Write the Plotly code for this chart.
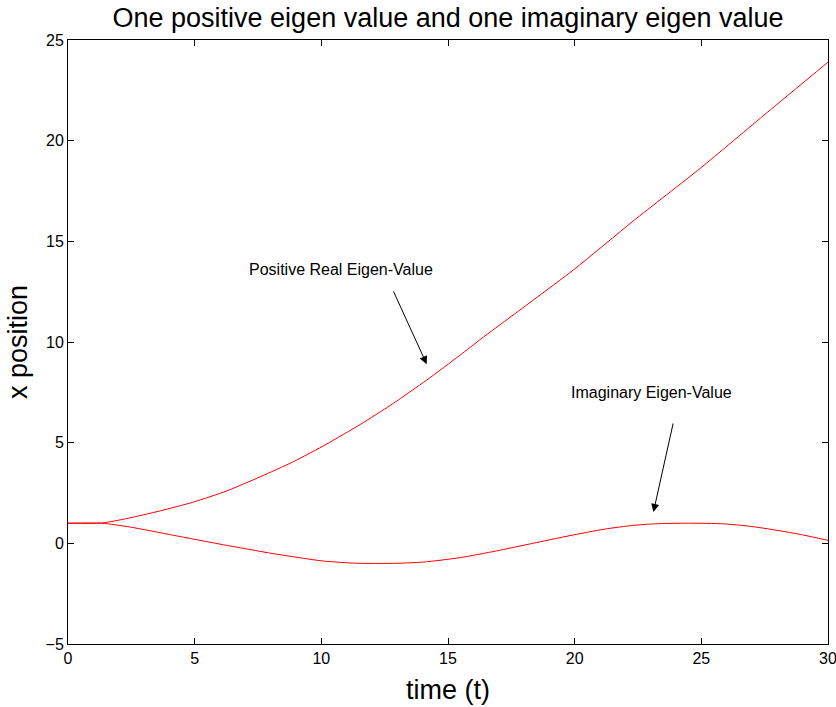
import plotly.graph_objects as go

# time samples and positions for the two responses
t_real = [0, 1.33, 2.32, 3.63, 4.95, 6.26, 7.58, 8.89, 10.21, 11.53, 12.84,
          14.16, 15.48, 16.3, 19.95, 22.32, 24.95, 27.58, 30]
x_real = [1.0, 1.01, 1.23, 1.61, 2.05, 2.6, 3.3, 4.05, 4.93, 5.9, 6.95,
          8.11, 9.35, 10.15, 13.58, 16.02, 18.62, 21.38, 23.9]

t_imag = [0, 1.33, 2.45, 4.16, 6.13, 8.1, 10.08, 11.4, 12.2, 12.98, 14.03,
          15.48, 16.9, 18.35, 19.8, 21.2, 22.3, 23.2, 24.5, 25.87, 26.9,
          27.98, 29.0, 30]
x_imag = [1.0, 1.0, 0.81, 0.40, -0.07, -0.51, -0.88, -0.99, -1.0, -0.99, -0.93,
          -0.71, -0.38, 0.0, 0.38, 0.71, 0.89, 0.97, 1.0, 0.97, 0.85,
          0.65, 0.42, 0.15]

x_ticks = [0, 5, 10, 15, 20, 25, 30]
y_ticks = [-5, 0, 5, 10, 15, 20, 25]

title_text = "One positive eigen value and one imaginary eigen value"
label_real = "Positive Real Eigen-Value"
label_imag = "Imaginary Eigen-Value"

FONT = "Liberation Sans, Arial, Helvetica, sans-serif"

fig = go.Figure()
for t, x in ((t_real, x_real), (t_imag, x_imag)):
    fig.add_trace(go.Scatter(
        x=t, y=x, mode="lines",
        line=dict(color="#ff0000", width=1, shape="spline", smoothing=0.6),
        showlegend=False, hoverinfo="skip", cliponaxis=True,
    ))

# text labels with arrows pointing at each curve
fig.add_annotation(x=14.16, y=8.9, ax=12.82, ay=12.59, xref="x", yref="y",
                   axref="x", ayref="y", showarrow=True, arrowhead=2,
                   arrowsize=1.6, arrowwidth=1, arrowcolor="black", text="")
fig.add_annotation(x=10.76, y=13.58, xref="x", yref="y", showarrow=False,
                   text=label_real, font=dict(family=FONT, size=16, color="black"))
fig.add_annotation(x=23.11, y=1.56, ax=23.9, ay=6.03, xref="x", yref="y",
                   axref="x", ayref="y", showarrow=True, arrowhead=2,
                   arrowsize=1.6, arrowwidth=1, arrowcolor="black", text="")
fig.add_annotation(x=23.03, y=7.48, xref="x", yref="y", showarrow=False,
                   text=label_imag, font=dict(family=FONT, size=16, color="black"))

axis_common = dict(
    showgrid=False, zeroline=False, showline=True, linecolor="black",
    linewidth=1, mirror="ticks", ticks="inside", ticklen=6, tickcolor="black",
    tickfont=dict(family=FONT, size=16, color="black"), automargin=False,
    ticklabeloverflow="allow",
)

fig.update_layout(
    width=836, height=707,
    margin=dict(l=68, r=8, t=40, b=63),
    paper_bgcolor="white", plot_bgcolor="white",
    title=dict(text=title_text, xref="paper", x=0.5, xanchor="center",
               y=0.975, yanchor="middle",
               font=dict(family=FONT, size=27, color="black")),
    xaxis=dict(range=[0, 30], tickvals=x_ticks,
               title=dict(text="time (t)", standoff=13,
                          font=dict(family=FONT, size=27, color="black")),
               **axis_common),
    yaxis=dict(range=[-5, 25], tickvals=y_ticks,
               title=dict(text="x position", standoff=10,
                          font=dict(family=FONT, size=27, color="black")),
               **axis_common),
)

fig.write_html("out.html")
